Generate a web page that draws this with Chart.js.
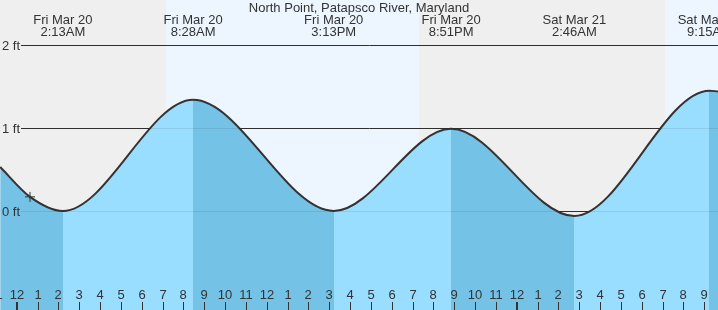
<!DOCTYPE html>
<html>
<head>
<meta charset="utf-8">
<script src="https://cdn.jsdelivr.net/npm/chart.js@4/dist/chart.umd.min.js"></script>
<style>
  html, body { margin: 0; padding: 0; background: #efefef; }
  #wrap { width: 718px; height: 310px; position: relative; }
  canvas { display: block; }
</style>
</head>
<body>
<div id="wrap"><canvas id="c" width="718" height="310"></canvas></div>
<script>
// ---- data (hours counted from Fri Mar 20, 00:00 local) ----
const chartTitle = 'North Point, Patapsco River, Maryland';
const tideHours = [-0.79, 0.64, 2.217, 8.467, 15.217, 20.85, 26.767, 33.25, 33.66];
const tideFeet  = [0.53, 0.17, 0.00, 1.34, 0.00, 0.99, -0.06, 1.45, 1.44];
const extremeHours = [2.217, 8.467, 15.217, 20.85, 26.767, 33.25];
const extremeDays  = ['Fri Mar 20', 'Fri Mar 20', 'Fri Mar 20', 'Fri Mar 20', 'Sat Mar 21', 'Sat Mar 21'];
const extremeClock = ['2:13AM', '8:28AM', '3:13PM', '8:51PM', '2:46AM', '9:15AM'];
const sunriseHours = [7.17, 31.12];
const sunsetHours  = [19.31];
const feetTicks = [0, 1, 2];
const feetLabels = ['0 ft', '1 ft', '2 ft'];
const nowHour = 0.64;
const nowFeet = 0.17;
const xMin = -0.8, xMax = 33.66;
const yMin = -1.193, yMax = 2.542;

// ---- styles ----
const NIGHT = '#efefef';
const DAY = '#edf6fe';
const RISE = '#99ddff';
const FALL = '#74c2e6';
const INK = '#333333';
const FONT = '13px "Liberation Sans", Arial, sans-serif';

// fill: darker while the tide falls, lighter while it rises
function waterFill(c) {
  const chart = c.chart;
  const a = chart.chartArea;
  if (!a) return RISE;
  const x = chart.scales.x;
  const w = a.right - a.left;
  const g = chart.ctx.createLinearGradient(a.left, 0, a.right, 0);
  const clamp = v => Math.min(1, Math.max(0, v));
  for (let i = 0; i < tideHours.length - 1; i++) {
    const col = tideFeet[i + 1] < tideFeet[i] ? FALL : RISE;
    const f0 = clamp((x.getPixelForValue(tideHours[i]) - a.left) / w);
    const f1 = clamp((x.getPixelForValue(tideHours[i + 1]) - a.left) / w);
    g.addColorStop(f0, col);
    g.addColorStop(f1, col);
  }
  return g;
}

const decor = {
  id: 'decor',
  beforeDatasetsDraw(chart) {
    const {ctx, chartArea: a, scales: {x, y}} = chart;
    ctx.save();
    ctx.fillStyle = NIGHT;
    ctx.fillRect(a.left, a.top, a.right - a.left, a.bottom - a.top);
    // day bands: sunrise -> sunset
    ctx.fillStyle = DAY;
    sunriseHours.forEach((sr, i) => {
      const ss = i < sunsetHours.length ? sunsetHours[i] : xMax;
      const x0 = x.getPixelForValue(sr), x1 = x.getPixelForValue(ss);
      ctx.fillRect(x0, a.top, x1 - x0, a.bottom - a.top);
    });
    // grid lines
    ctx.strokeStyle = INK;
    ctx.lineWidth = 1;
    feetTicks.forEach(f => {
      const py = Math.round(y.getPixelForValue(f)) + 0.5;
      ctx.beginPath(); ctx.moveTo(21, py); ctx.lineTo(a.right, py); ctx.stroke();
    });
    ctx.restore();
  },
  afterDatasetsDraw(chart) {
    const {ctx, chartArea: a, scales: {x, y}} = chart;
    ctx.save();
    // faint grid lines over the water
    ctx.strokeStyle = 'rgba(0,0,0,0.08)';
    ctx.lineWidth = 1;
    feetTicks.forEach(f => {
      const py = Math.round(y.getPixelForValue(f)) + 0.5;
      ctx.beginPath(); ctx.moveTo(21, py); ctx.lineTo(a.right, py); ctx.stroke();
    });
    ctx.font = FONT;
    ctx.fillStyle = INK;
    // y labels
    ctx.textAlign = 'left';
    ctx.textBaseline = 'alphabetic';
    feetTicks.forEach((f, i) => {
      const py = y.getPixelForValue(f);
      ctx.fillText(feetLabels[i], 2, py + 5);
    });
    // hour ticks
    ctx.textAlign = 'center';
    for (let h = Math.floor(xMin) - 1; h <= Math.ceil(xMax); h++) {
      const px = Math.round(x.getPixelForValue(h));
      const hr = ((h % 12) + 12) % 12 || 12;
      ctx.fillStyle = INK;
      ctx.fillText(String(hr), px, 299);
      const midnight = ((h % 24) + 24) % 24 === 0;
      if (midnight) ctx.fillRect(px - 1, 302, 2, 8);
      else ctx.fillRect(px, 302, 1, 8);
    }
    // extreme labels
    extremeHours.forEach((h, i) => {
      const px = x.getPixelForValue(h);
      ctx.fillText(extremeDays[i], px, 24);
      ctx.fillText(extremeClock[i], px, 36);
    });
    // title
    ctx.fillText(chartTitle, (a.left + a.right) / 2, 12);
    ctx.restore();
  }
};

new Chart(document.getElementById('c'), {
  type: 'line',
  data: {
    datasets: [
      {
        data: tideHours.map((h, i) => ({x: h, y: tideFeet[i]})),
        borderColor: INK,
        borderWidth: 2,
        pointRadius: 0,
        fill: 'start',
        backgroundColor: waterFill,
        cubicInterpolationMode: 'monotone',
        order: 2
      },
      {
        data: [{x: nowHour, y: nowFeet}],
        showLine: false,
        fill: false,
        pointStyle: 'cross',
        pointRadius: 5,
        borderColor: INK,
        borderWidth: 1,
        order: 1
      }
    ]
  },
  options: {
    responsive: false,
    animation: false,
    layout: {padding: 0, autoPadding: false},
    plugins: {legend: {display: false}, title: {display: false}, tooltip: {enabled: false}},
    scales: {
      x: {type: 'linear', min: xMin, max: xMax, display: false},
      y: {min: yMin, max: yMax, display: false}
    }
  },
  plugins: [decor]
});
</script>
</body>
</html>
